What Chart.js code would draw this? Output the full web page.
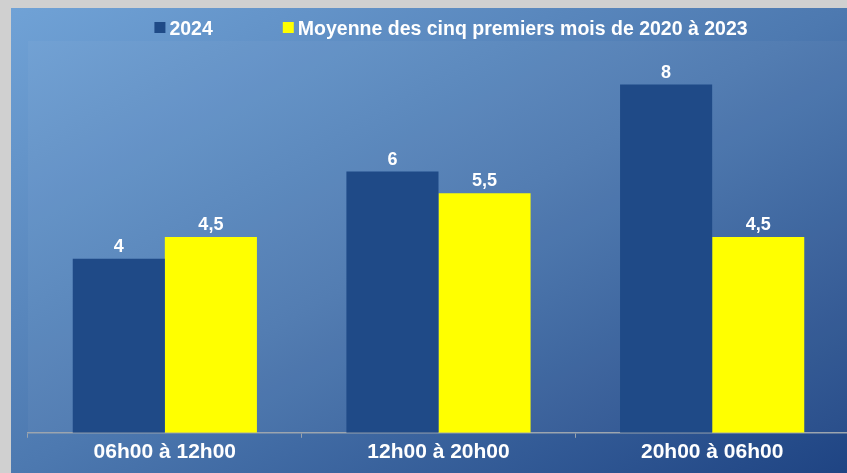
<!DOCTYPE html>
<html lang="fr">
<head>
  <meta charset="UTF-8">
  <title>Répartition horaire</title>
  <script src="https://cdn.jsdelivr.net/npm/chart.js"></script>
  <style>
    html, body { margin: 0; padding: 0; }
    body { background: #d0d0d0; width: 847px; height: 473px; overflow: hidden; position: relative; }
    .frame {
      position: absolute; left: 11px; top: 8px; width: 836px; height: 465px; overflow: hidden;
      background: linear-gradient(to bottom right, #70a2d6 0%, #4d79b0 50%, #1f4483 100%);
    }
    canvas { display: block; }
  </style>
</head>
<body>
  <div class="frame">
    <canvas id="chart" width="838" height="465"></canvas>
  </div>

  <script>
    const categories = ["06h00 à 12h00", "12h00 à 20h00", "20h00 à 06h00"];
    const seriesLabels = ["2024", "Moyenne des cinq premiers mois de 2020 à 2023"];
    const values2024 = [4, 6, 8];
    const valuesAvg = [4.5, 5.5, 4.5];
    const colors = ["#1f4a87", "#ffff00"];

    const FONT = "'Liberation Sans', Arial, sans-serif";

    // fond légèrement plus clair sur la zone de tracé
    const plotBg = {
      id: "plotBg",
      beforeDatasetsDraw(chart) {
        const a = chart.chartArea, ctx = chart.ctx;
        ctx.save();
        ctx.fillStyle = "rgba(255,255,255,0.035)";
        ctx.fillRect(a.left, a.top, a.right - a.left, a.bottom - a.top);
        ctx.restore();
      }
    };

    // étiquettes de valeur au-dessus des barres
    const valueLabels = {
      id: "valueLabels",
      afterDatasetsDraw(chart) {
        const ctx = chart.ctx;
        ctx.save();
        ctx.font = "bold 18px " + FONT;
        ctx.fillStyle = "#ffffff";
        ctx.textAlign = "center";
        ctx.textBaseline = "alphabetic";
        chart.data.datasets.forEach((ds, i) => {
          chart.getDatasetMeta(i).data.forEach((bar, j) => {
            ctx.fillText(ds.data[j].toLocaleString("fr-FR"), bar.x, bar.y - 7);
          });
        });
        ctx.restore();
      }
    };

    // légende en haut
    const topLegend = {
      id: "topLegend",
      afterDraw(chart) {
        const ctx = chart.ctx;
        const box = 11, gap = 4, itemGap = 70, centerX = 440;
        ctx.save();
        ctx.font = "bold 19.5px " + FONT;
        const items = chart.data.datasets.map(ds => ({ text: ds.label, color: ds.backgroundColor, w: ctx.measureText(ds.label).width }));
        let total = items.reduce((s, it) => s + box + gap + it.w, 0) + itemGap * (items.length - 1);
        let x = centerX - total / 2;
        ctx.textBaseline = "alphabetic";
        ctx.textAlign = "left";
        items.forEach(it => {
          ctx.fillStyle = it.color;
          ctx.fillRect(x, 14, box, box);
          ctx.fillStyle = "#ffffff";
          ctx.fillText(it.text, x + box + gap, 27);
          x += box + gap + it.w + itemGap;
        });
        ctx.restore();
      }
    };

    new Chart(document.getElementById("chart"), {
      type: "bar",
      data: {
        labels: categories,
        datasets: [
          { label: seriesLabels[0], data: values2024, backgroundColor: colors[0] },
          { label: seriesLabels[1], data: valuesAvg, backgroundColor: colors[1] }
        ]
      },
      options: {
        responsive: false,
        animation: false,
        layout: { padding: { left: 17, top: 33, right: 0, bottom: 6 } },
        datasets: { bar: { categoryPercentage: 0.673, barPercentage: 1 } },
        plugins: { legend: { display: false }, tooltip: { enabled: false } },
        scales: {
          y: { display: false, min: 0, max: 9 },
          x: {
            grid: { drawOnChartArea: false, drawTicks: true, tickLength: 5, color: "#9aa3ad" },
            border: { color: "#9aa3ad", width: 1.5 },
            ticks: { color: "#ffffff", padding: 2, font: { family: FONT, size: 21, weight: "bold" } }
          }
        }
      },
      plugins: [plotBg, valueLabels, topLegend]
    });
  </script>
</body>
</html>
